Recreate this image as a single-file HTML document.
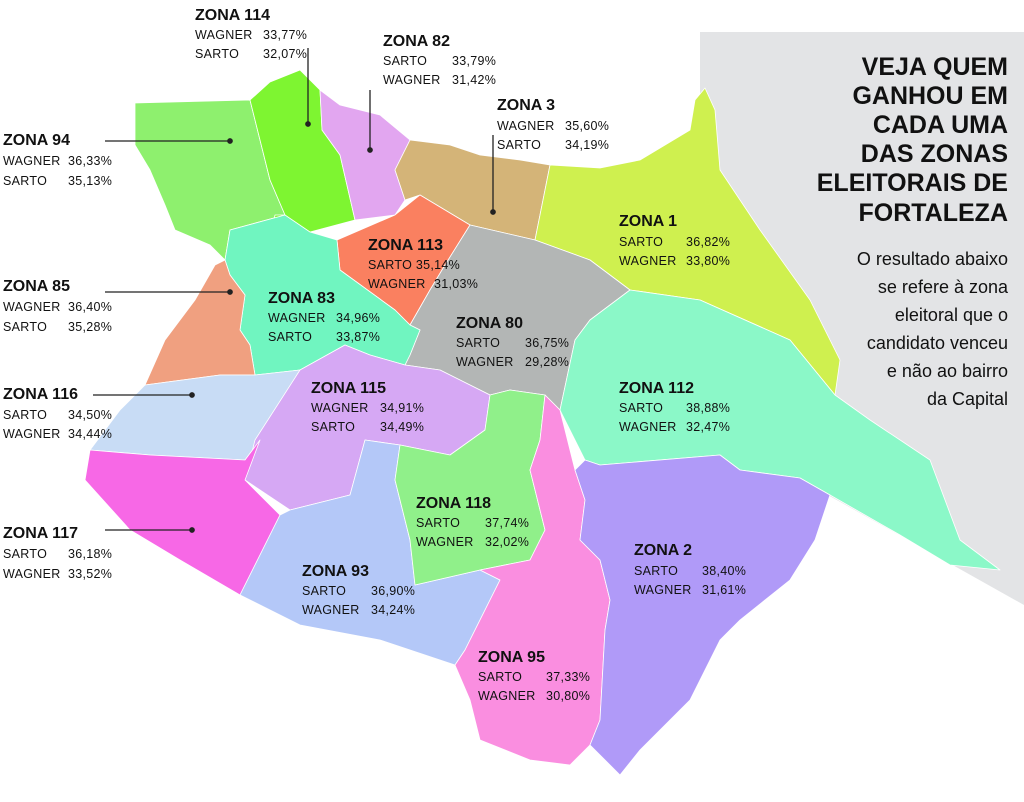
<!DOCTYPE html>
<html><head><meta charset="utf-8"><style>
html,body{margin:0;padding:0;background:#fff;width:1024px;height:802px;overflow:hidden}
svg{display:block}
text{font-family:"Liberation Sans",sans-serif;fill:#111}
.z{font-weight:bold;font-size:16px}
.l{font-size:12.5px;letter-spacing:0.3px}
.t{font-weight:bold;font-size:25px;text-anchor:end}
.s{font-size:18px;text-anchor:end}
.zone{stroke:#fff;stroke-width:0.8;stroke-linejoin:round}
</style></head><body>
<svg width="1024" height="802" viewBox="0 0 1024 802">
<polygon points="700,32 1024,32 1024,605 810,485 700,180" fill="#e3e4e6"/>
<g>
<polygon class="zone" fill="#8ef06e" points="135,103 250,100 270,180 285,215 230,230 225,260 210,245 175,230 165,205 150,170 135,145"/>
<polygon class="zone" fill="#7ef531" points="250,100 270,82 300,70 320,90 322,130 340,155 355,220 310,232 270,240 275,215 285,215 270,180"/>
<polygon class="zone" fill="#e2a6f0" points="320,90 340,105 380,115 410,140 395,170 405,200 395,215 355,220 340,155 322,130"/>
<polygon class="zone" fill="#d4b478" points="410,140 450,145 480,155 520,160 550,165 535,240 470,225 420,195 405,200 395,170"/>
<polygon class="zone" fill="#cff04f" points="550,165 600,168 640,160 690,130 695,100 705,88 715,110 720,170 760,230 810,300 840,360 835,395 790,340 700,300 630,290 590,260 535,240"/>
<polygon class="zone" fill="#fa8060" points="395,215 420,195 470,225 445,265 430,290 410,325 395,310 340,270 337,240"/>
<polygon class="zone" fill="#b3b6b5" points="470,225 535,240 590,260 630,290 590,320 575,340 560,410 545,395 510,390 490,395 470,385 440,370 405,365 410,355 420,330 410,325 430,290 445,265"/>
<polygon class="zone" fill="#70f5c0" points="230,230 285,215 310,232 337,240 340,270 395,310 410,325 420,330 410,355 405,365 370,355 345,345 300,370 255,375 250,345 240,330 245,295 230,275 225,260"/>
<polygon class="zone" fill="#f0a080" points="225,260 230,275 245,295 240,330 250,345 255,375 220,375 145,385 165,340 195,300 215,265"/>
<polygon class="zone" fill="#8bf8c8" points="630,290 700,300 790,340 835,395 870,420 930,460 960,540 1000,570 950,565 900,535 830,495 800,478 740,470 720,455 600,465 585,460 560,410 575,340 590,320"/>
<polygon class="zone" fill="#c8dcf5" points="145,385 220,375 255,375 300,370 260,440 245,460 150,455 90,450 120,410"/>
<polygon class="zone" fill="#d6a8f4" points="300,370 345,345 370,355 405,365 440,370 470,385 490,395 485,430 450,455 400,445 365,440 350,495 290,510 245,480 255,440"/>
<polygon class="zone" fill="#f768e6" points="90,450 150,455 245,460 260,440 245,480 280,515 240,595 180,560 130,530 85,480"/>
<polygon class="zone" fill="#b4c8f8" points="290,510 350,495 365,440 400,445 395,480 410,540 415,585 480,570 500,580 465,650 455,665 380,640 300,625 240,595 280,515"/>
<polygon class="zone" fill="#90f08a" points="400,445 450,455 485,430 490,395 510,390 545,395 540,440 530,470 545,530 530,560 480,570 415,585 410,540 395,480"/>
<polygon class="zone" fill="#fa8ee0" points="545,395 560,410 575,470 585,500 580,540 600,560 610,600 605,630 600,720 590,745 570,765 530,760 480,740 470,700 455,665 465,650 500,580 480,570 530,560 545,530 530,470 540,440"/>
<polygon class="zone" fill="#b09af8" points="585,460 600,465 720,455 740,470 800,478 830,495 815,540 790,580 740,620 720,640 700,680 690,700 640,750 620,775 590,745 600,720 605,630 610,600 600,560 580,540 585,500 575,470"/>
</g>
<g stroke="#222" stroke-width="1.3" fill="#222">
<line x1="308" y1="48" x2="308" y2="124"/><circle cx="308" cy="124" r="2.2"/>
<line x1="370" y1="90" x2="370" y2="150"/><circle cx="370" cy="150" r="2.2"/>
<line x1="493" y1="135" x2="493" y2="212"/><circle cx="493" cy="212" r="2.2"/>
<line x1="105" y1="141" x2="230" y2="141"/><circle cx="230" cy="141" r="2.2"/>
<line x1="105" y1="292" x2="230" y2="292"/><circle cx="230" cy="292" r="2.2"/>
<line x1="93" y1="395" x2="192" y2="395"/><circle cx="192" cy="395" r="2.2"/>
<line x1="105" y1="530" x2="192" y2="530"/><circle cx="192" cy="530" r="2.2"/>
</g>
<g>
<text class="t" x="1008" y="75">VEJA QUEM</text>
<text class="t" x="1008" y="104">GANHOU EM</text>
<text class="t" x="1008" y="133">CADA UMA</text>
<text class="t" x="1008" y="162">DAS ZONAS</text>
<text class="t" x="1008" y="191">ELEITORAIS DE</text>
<text class="t" x="1008" y="221">FORTALEZA</text>
<text class="s" x="1008" y="265">O resultado abaixo</text>
<text class="s" x="1008" y="293">se refere à zona</text>
<text class="s" x="1008" y="321">eleitoral que o</text>
<text class="s" x="1008" y="349">candidato venceu</text>
<text class="s" x="1008" y="377">e não ao bairro</text>
<text class="s" x="1008" y="405">da Capital</text>
</g>
<g>
<g><text class="z" x="195" y="20">ZONA 114</text><text class="l" x="195" y="39">WAGNER</text><text class="l" x="263" y="39">33,77%</text><text class="l" x="195" y="58">SARTO</text><text class="l" x="263" y="58">32,07%</text></g>
<g><text class="z" x="383" y="46">ZONA 82</text><text class="l" x="383" y="65">SARTO</text><text class="l" x="452" y="65">33,79%</text><text class="l" x="383" y="84">WAGNER</text><text class="l" x="452" y="84">31,42%</text></g>
<g><text class="z" x="497" y="110">ZONA 3</text><text class="l" x="497" y="130">WAGNER</text><text class="l" x="565" y="130">35,60%</text><text class="l" x="497" y="149">SARTO</text><text class="l" x="565" y="149">34,19%</text></g>
<g><text class="z" x="3" y="145">ZONA 94</text><text class="l" x="3" y="165">WAGNER</text><text class="l" x="68" y="165">36,33%</text><text class="l" x="3" y="185">SARTO</text><text class="l" x="68" y="185">35,13%</text></g>
<g><text class="z" x="619" y="226">ZONA 1</text><text class="l" x="619" y="246">SARTO</text><text class="l" x="686" y="246">36,82%</text><text class="l" x="619" y="265">WAGNER</text><text class="l" x="686" y="265">33,80%</text></g>
<g><text class="z" x="368" y="250">ZONA 113</text><text class="l" x="368" y="269">SARTO 35,14%</text><text class="l" x="368" y="288">WAGNER</text><text class="l" x="434" y="288">31,03%</text></g>
<g><text class="z" x="3" y="291">ZONA 85</text><text class="l" x="3" y="311">WAGNER</text><text class="l" x="68" y="311">36,40%</text><text class="l" x="3" y="331">SARTO</text><text class="l" x="68" y="331">35,28%</text></g>
<g><text class="z" x="268" y="303">ZONA 83</text><text class="l" x="268" y="322">WAGNER</text><text class="l" x="336" y="322">34,96%</text><text class="l" x="268" y="341">SARTO</text><text class="l" x="336" y="341">33,87%</text></g>
<g><text class="z" x="456" y="328">ZONA 80</text><text class="l" x="456" y="347">SARTO</text><text class="l" x="525" y="347">36,75%</text><text class="l" x="456" y="366">WAGNER</text><text class="l" x="525" y="366">29,28%</text></g>
<g><text class="z" x="3" y="399">ZONA 116</text><text class="l" x="3" y="419">SARTO</text><text class="l" x="68" y="419">34,50%</text><text class="l" x="3" y="438">WAGNER</text><text class="l" x="68" y="438">34,44%</text></g>
<g><text class="z" x="311" y="393">ZONA 115</text><text class="l" x="311" y="412">WAGNER</text><text class="l" x="380" y="412">34,91%</text><text class="l" x="311" y="431">SARTO</text><text class="l" x="380" y="431">34,49%</text></g>
<g><text class="z" x="619" y="393">ZONA 112</text><text class="l" x="619" y="412">SARTO</text><text class="l" x="686" y="412">38,88%</text><text class="l" x="619" y="431">WAGNER</text><text class="l" x="686" y="431">32,47%</text></g>
<g><text class="z" x="416" y="508">ZONA 118</text><text class="l" x="416" y="527">SARTO</text><text class="l" x="485" y="527">37,74%</text><text class="l" x="416" y="546">WAGNER</text><text class="l" x="485" y="546">32,02%</text></g>
<g><text class="z" x="3" y="538">ZONA 117</text><text class="l" x="3" y="558">SARTO</text><text class="l" x="68" y="558">36,18%</text><text class="l" x="3" y="578">WAGNER</text><text class="l" x="68" y="578">33,52%</text></g>
<g><text class="z" x="634" y="555">ZONA 2</text><text class="l" x="634" y="575">SARTO</text><text class="l" x="702" y="575">38,40%</text><text class="l" x="634" y="594">WAGNER</text><text class="l" x="702" y="594">31,61%</text></g>
<g><text class="z" x="302" y="576">ZONA 93</text><text class="l" x="302" y="595">SARTO</text><text class="l" x="371" y="595">36,90%</text><text class="l" x="302" y="614">WAGNER</text><text class="l" x="371" y="614">34,24%</text></g>
<g><text class="z" x="478" y="662">ZONA 95</text><text class="l" x="478" y="681">SARTO</text><text class="l" x="546" y="681">37,33%</text><text class="l" x="478" y="700">WAGNER</text><text class="l" x="546" y="700">30,80%</text></g>
</g>
</svg>
</body></html>
